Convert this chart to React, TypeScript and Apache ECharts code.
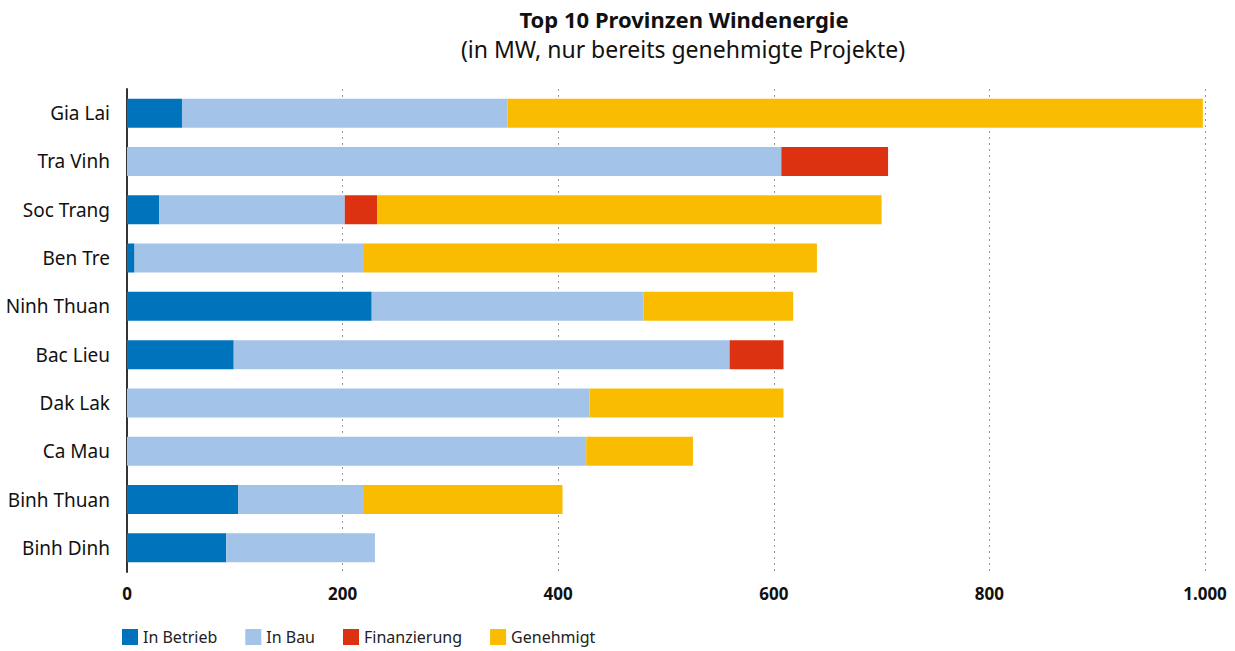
import React, { useEffect, useRef } from "react";
import * as echarts from "echarts";

const provinces = ["Gia Lai", "Tra Vinh", "Soc Trang", "Ben Tre", "Ninh Thuan", "Bac Lieu", "Dak Lak", "Ca Mau", "Binh Thuan", "Binh Dinh"];
const inBetrieb = [51, 0, 30, 7, 227, 99, 0, 0, 103, 92];
const inBau = [302, 607, 172, 212, 252, 460, 429, 426, 116, 138];
const finanzierung = [0, 99, 30, 0, 0, 50, 0, 0, 0, 0];
const genehmigt = [645, 0, 468, 421, 139, 0, 180, 99, 185, 0];
const xTicks = [0, 200, 400, 600, 800, 1000];

const seriesNames = ["In Betrieb", "In Bau", "Finanzierung", "Genehmigt"];
const seriesColors = ["#0073BD", "#A3C3E8", "#DC3211", "#FABC00"];

const FONT = "'Noto Sans', 'Open Sans', sans-serif";

export default function App() {
  const ref = useRef<HTMLDivElement>(null);
  useEffect(() => {
    if (!ref.current) return;
    const chart = echarts.init(ref.current, undefined, { renderer: "svg" });
    const datasets = [inBetrieb, inBau, finanzierung, genehmigt];
    chart.setOption({
      animation: false,
      backgroundColor: "#ffffff",
      textStyle: { fontFamily: FONT },
      title: [
        {
          text: "Top 10 Provinzen Windenergie",
          left: 679,
          top: 3,
          textAlign: "center",
          textStyle: { fontFamily: FONT, fontSize: 22, fontWeight: "bold", color: "#111" },
        },
        {
          text: "(in MW, nur bereits genehmigte Projekte)",
          left: 678,
          top: 32,
          textAlign: "center",
          textStyle: { fontFamily: FONT, fontSize: 23, fontWeight: "normal", color: "#111" },
        },
      ],
      legend: {
        left: 117,
        top: 624,
        itemWidth: 16,
        itemHeight: 16,
        itemGap: 28,
        icon: "rect",
        data: seriesNames,
        textStyle: { fontFamily: FONT, fontSize: 16, color: "#222" },
      },
      grid: { left: 127, right: 30, top: 89, bottom: 79, containLabel: false },
      xAxis: {
        type: "value",
        min: 0,
        max: 1000,
        interval: 200,
        axisLine: { show: false },
        axisTick: { show: false },
        splitLine: { show: true, lineStyle: { color: "#999", width: 1, type: [2, 4] } },
        axisLabel: {
          margin: 13,
          fontFamily: FONT,
          fontSize: 17,
          fontWeight: "bold",
          color: "#111",
          customValues: xTicks,
          formatter: (v: number) => v.toLocaleString("de-DE"),
        },
      },
      yAxis: {
        type: "category",
        data: provinces,
        inverse: true,
        axisLine: { show: true, lineStyle: { color: "#333", width: 2 } },
        axisTick: { show: false },
        axisLabel: { margin: 17, fontFamily: FONT, fontSize: 19, color: "#111" },
      },
      series: datasets.map((d, i) => ({
        name: seriesNames[i],
        type: "bar",
        stack: "total",
        barWidth: 29,
        data: d,
        itemStyle: { color: seriesColors[i] },
      })),
    });
    return () => chart.dispose();
  }, []);
  return <div ref={ref} style={{ width: 1235, height: 651, position: "absolute", left: 0, top: 0 }} />;
}
